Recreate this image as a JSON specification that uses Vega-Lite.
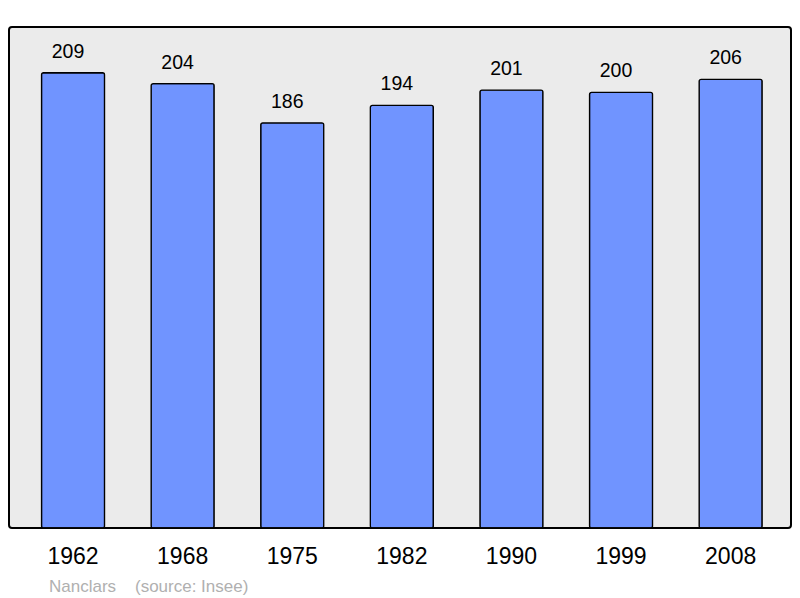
{
  "$schema": "https://vega.github.io/schema/vega-lite/v6.json",
  "width": 782,
  "height": 501,
  "autosize": "none",
  "padding": {"left": 9, "top": 27, "right": 9, "bottom": 70},
  "background": "white",
  "data": {"values": [
    {"year": "1962", "pop": 209},
    {"year": "1968", "pop": 204},
    {"year": "1975", "pop": 186},
    {"year": "1982", "pop": 194},
    {"year": "1990", "pop": 201},
    {"year": "1999", "pop": 200},
    {"year": "2008", "pop": 206}
  ]},
  "title": {
    "text": "Nanclars\u00a0\u00a0\u00a0\u00a0(source: Insee)",
    "orient": "bottom",
    "anchor": "start",
    "frame": "group",
    "dx": 40,
    "offset": 11,
    "font": "Liberation Sans",
    "fontSize": 17,
    "fontWeight": "normal",
    "color": "#b0b0b0"
  },
  "encoding": {
    "x": {
      "field": "year", "type": "ordinal", "sort": null,
      "scale": {"paddingInner": 0.425, "paddingOuter": 0.28, "align": 0.53},
      "axis": {"title": null, "domain": false, "ticks": false, "labelAngle": 0,
        "labelFont": "Liberation Sans", "labelFontSize": 23, "labelColor": "#000", "labelPadding": 17}
    },
    "y": {
      "field": "pop", "type": "quantitative",
      "scale": {"domain": [0, 230], "nice": false},
      "axis": null
    }
  },
  "layer": [
    {"mark": {"type": "bar", "fill": "#7094ff", "stroke": "#000", "strokeWidth": 1.3, "cornerRadius": 2}},
    {"mark": {"type": "text", "baseline": "alphabetic", "dy": -15, "dx": -5, "font": "Liberation Sans", "fontSize": 19.5, "color": "#000"},
     "encoding": {"text": {"field": "pop", "type": "quantitative"}}}
  ],
  "config": {
    "view": {"fill": "#ebebeb", "stroke": "#000", "strokeWidth": 2, "cornerRadius": 3}
  }
}
